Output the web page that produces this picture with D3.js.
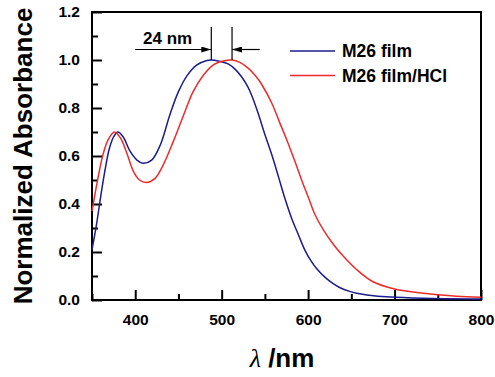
<!DOCTYPE html>
<html>
<head>
<meta charset="utf-8">
<script src="https://cdn.jsdelivr.net/npm/d3@7"></script>
<style>
  body { margin: 0; background: #fff; }
  text { font-family: "Liberation Sans", Arial, sans-serif; font-weight: bold; fill: #000; }
</style>
</head>
<body>
<div id="chart"></div>
<script>
// M26 film (blue)
const filmWavelength = [350, 355, 360, 365, 370, 375, 380, 386, 394, 402, 409, 419, 429, 440, 450, 460, 471, 483, 488, 497, 508, 516, 523, 530, 535, 542, 550, 558, 566, 573, 581, 589, 596, 603, 610, 620, 629, 637, 648, 656, 668, 695, 733, 800];
const filmAbs        = [0.21, 0.31, 0.43, 0.54, 0.63, 0.68, 0.70, 0.68, 0.62, 0.583, 0.57, 0.583, 0.646, 0.771, 0.868, 0.935, 0.979, 0.998, 1.00, 0.995, 0.983, 0.96, 0.93, 0.89, 0.85, 0.78, 0.69, 0.605, 0.51, 0.425, 0.34, 0.27, 0.21, 0.165, 0.13, 0.093, 0.068, 0.051, 0.036, 0.028, 0.021, 0.012, 0.007, 0.004];

// M26 film/HCl (red)
const hclWavelength = [350, 357, 363, 369, 376, 383, 390, 398, 405, 413, 423, 432, 444, 456, 467, 479, 490, 498, 512, 521, 531, 540, 546, 558, 567, 575, 585, 593, 600, 608, 618, 630, 640, 656, 675, 700, 733, 750, 772, 800];
const hclAbs        = [0.37, 0.51, 0.61, 0.67, 0.70, 0.675, 0.615, 0.535, 0.50, 0.49, 0.507, 0.56, 0.66, 0.771, 0.868, 0.9375, 0.979, 0.993, 1.00, 0.99, 0.965, 0.93, 0.90, 0.82, 0.74, 0.67, 0.575, 0.495, 0.43, 0.355, 0.29, 0.228, 0.185, 0.127, 0.076, 0.046, 0.028, 0.022, 0.016, 0.011];

const seriesNames = ['M26 film', 'M26 film/HCl'];
const seriesColors = ['#1c1c8c', '#ee2b2b'];

const xMajorTicks = [400, 500, 600, 700, 800];
const xMinorTicks = [350, 450, 550, 650, 750];
const yMajorTicks = [0.0, 0.2, 0.4, 0.6, 0.8, 1.0, 1.2];
const yMinorTicks = [0.1, 0.3, 0.5, 0.7, 0.9, 1.1];

// peak shift annotation (nm)
const peakShift = [488, 512];
const shiftLabel = '24 nm';

const width = 495, height = 377;
const plot = { left: 92, right: 481, top: 12, bottom: 300 };

const svg = d3.select('#chart')
  .append('svg')
    .attr('width', width)
    .attr('height', height);

const x = d3.scaleLinear().domain([350, 800]).range([plot.left, plot.right]);
const y = d3.scaleLinear().domain([0, 1.2]).range([plot.bottom, plot.top]);

// Axes (inward ticks)
svg.append('g')
    .attr('transform', `translate(0,${plot.bottom})`)
    .call(d3.axisBottom(x).tickValues(xMajorTicks).tickSize(-10).tickPadding(14).tickFormat(d3.format('d')));
svg.append('g')
    .attr('transform', `translate(0,${plot.bottom})`)
    .call(d3.axisBottom(x).tickValues(xMinorTicks).tickSize(-6).tickFormat(''));
svg.append('g')
    .attr('transform', `translate(${plot.left},0)`)
    .call(d3.axisLeft(y).tickValues(yMajorTicks).tickSize(-10).tickPadding(12).tickFormat(d3.format('.1f')));
svg.append('g')
    .attr('transform', `translate(${plot.left},0)`)
    .call(d3.axisLeft(y).tickValues(yMinorTicks).tickSize(-6).tickFormat(''));

svg.selectAll('.domain').remove();
svg.selectAll('.tick line').attr('stroke', '#000').attr('stroke-width', 2);
svg.selectAll('.tick text')
  .style('font-size', '15.5px')
  .style('font-family', '"Liberation Sans", Arial, sans-serif')
  .style('font-weight', 'bold')
  .attr('fill', '#000');

// Frame
svg.append('rect')
  .attr('x', plot.left)
  .attr('y', plot.top)
  .attr('width', plot.right - plot.left)
  .attr('height', plot.bottom - plot.top)
  .attr('fill', 'none')
  .attr('stroke', '#000')
  .attr('stroke-width', 2);

// Curves
const line = d3.line()
  .x(d => x(d[0]))
  .y(d => y(d[1]))
  .curve(d3.curveCatmullRom.alpha(0.5));

const series = [
  d3.zip(filmWavelength, filmAbs),
  d3.zip(hclWavelength, hclAbs)
];

svg.append('g').selectAll('path')
  .data(series)
  .join('path')
    .attr('d', line)
    .attr('fill', 'none')
    .attr('stroke', (d, i) => seriesColors[i])
    .attr('stroke-width', 1.5);

// Legend
const legend = svg.append('g');
seriesNames.forEach((name, i) => {
  const ly = 51 + i * 24.5;
  legend.append('line')
    .attr('x1', 290).attr('x2', 335)
    .attr('y1', ly).attr('y2', ly)
    .attr('stroke', seriesColors[i])
    .attr('stroke-width', 1.5);
  legend.append('text')
    .attr('x', 342)
    .attr('y', ly + 6)
    .style('font-size', '17.5px')
    .text(name);
});

// Peak shift annotation
const defs = svg.append('defs');
defs.append('marker')
    .attr('id', 'arrow')
    .attr('viewBox', '0 0 10 6')
    .attr('refX', 10).attr('refY', 3)
    .attr('markerWidth', 10).attr('markerHeight', 6)
    .attr('markerUnits', 'userSpaceOnUse')
    .attr('orient', 'auto')
  .append('path')
    .attr('d', 'M0,0 L10,3 L0,6 Z')
    .attr('fill', '#000');

const ann = svg.append('g');
peakShift.forEach(w => {
  ann.append('line')
    .attr('x1', x(w)).attr('x2', x(w))
    .attr('y1', 27).attr('y2', y(1.0))
    .attr('stroke', '#000').attr('stroke-width', 1.2);
});
const arrowY = 49.5;
ann.append('line')
  .attr('x1', x(400)).attr('x2', x(peakShift[0]))
  .attr('y1', arrowY).attr('y2', arrowY)
  .attr('stroke', '#000').attr('stroke-width', 1.2)
  .attr('marker-end', 'url(#arrow)');
ann.append('line')
  .attr('x1', x(544)).attr('x2', x(peakShift[1]))
  .attr('y1', arrowY).attr('y2', arrowY)
  .attr('stroke', '#000').attr('stroke-width', 1.2)
  .attr('marker-end', 'url(#arrow)');
ann.append('text')
  .attr('x', 143)
  .attr('y', 44)
  .style('font-size', '17px')
  .text(shiftLabel);

// Axis titles
svg.append('text')
  .attr('transform', `translate(32,${(plot.top + plot.bottom) / 2}) rotate(-90)`)
  .attr('text-anchor', 'middle')
  .style('font-size', '26px')
  .text('Normalized Absorbance');

const xTitle = svg.append('text')
  .attr('x', 282)
  .attr('y', 367)
  .attr('text-anchor', 'middle')
  .style('font-size', '26px');
xTitle.append('tspan')
  .style('font-family', '"Liberation Serif", "Times New Roman", serif')
  .style('font-style', 'italic')
  .style('font-weight', 'normal')
  .text('λ');
xTitle.append('tspan')
  .text(' /nm');
</script>
</body>
</html>
